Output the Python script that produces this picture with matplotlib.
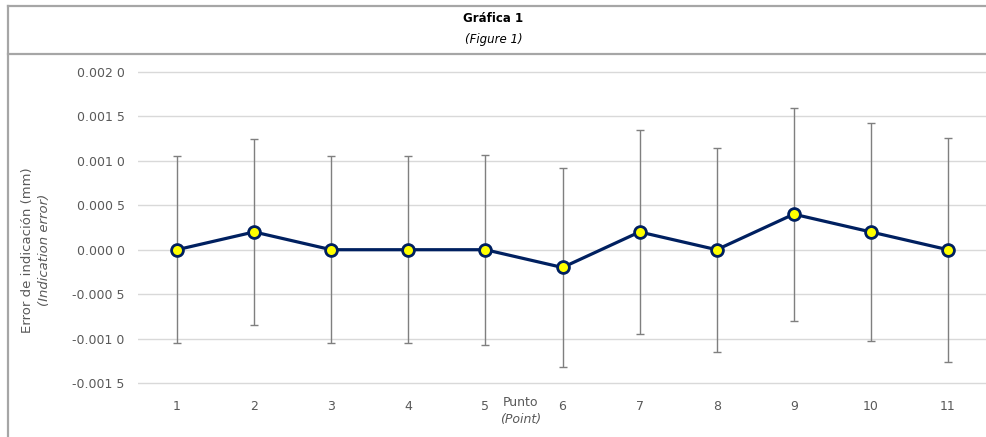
import matplotlib
matplotlib.use("Agg")
import matplotlib.pyplot as plt
from matplotlib.lines import Line2D
from matplotlib.ticker import FuncFormatter

points = [1, 2, 3, 4, 5, 6, 7, 8, 9, 10, 11]
errors = [0.0, 0.0002, 0.0, 0.0, 0.0, -0.0002, 0.0002, 0.0, 0.0004, 0.0002, 0.0]
uncert = [0.00105, 0.00105, 0.00105, 0.00105, 0.00107, 0.00112, 0.00115, 0.00115, 0.0012, 0.00123, 0.00126]
yticks = [-0.0015, -0.001, -0.0005, 0.0, 0.0005, 0.001, 0.0015, 0.002]

plt.rcParams['font.family'] = ['DejaVu Sans']
W, H = 987, 437
fig = plt.figure(figsize=(W / 100, H / 100), dpi=100)
pad_px = 3
unit = (383 - 72) / 0.0035
dv = pad_px / unit
ax = fig.add_axes([138.5 / W, 1 - (383 + pad_px) / H, 848 / W, (383 - 72 + 2 * pad_px) / H])

navy = '#002060'
ax.errorbar(points, errors, yerr=uncert, fmt='none', ecolor='#7f7f7f',
            elinewidth=1.0, capsize=3, capthick=1.0, zorder=2)
ax.plot(points, errors, color=navy, lw=2.3, marker='o', ms=8.5,
        mfc='#FFFF00', mec=navy, mew=2.0, zorder=3)

ax.set_xlim(0.5, 11.5)
ax.set_ylim(-0.0015 - dv, 0.002 + dv)
ax.set_yticks(yticks)
ax.set_xticks(points)
ax.set_xticklabels([str(p) for p in points])

def fmt(v, pos):
    s = f"{v:.4f}"
    if s == "-0.0000":
        s = "0.0000"
    return s[:-1] + " " + s[-1]

ax.yaxis.set_major_formatter(FuncFormatter(fmt))
ax.grid(axis='y', color='#d9d9d9', lw=1.0)
ax.set_axisbelow(True)
for sp in ax.spines.values():
    sp.set_visible(False)
ax.tick_params(axis='both', length=0, labelsize=9, colors='#595959')
ax.tick_params(axis='y', pad=10)
ax.tick_params(axis='x', pad=10)

# axis titles
fig.text(521 / W, 1 - 403 / H, 'Punto', ha='center', va='center', fontsize=9, color='#595959')
fig.text(521 / W, 1 - 420 / H, '(Point)', ha='center', va='center', fontsize=9, color='#595959', style='italic')
fig.text(28 / W, 1 - 250 / H, 'Error de indicación (mm)', ha='center', va='center', rotation=90,
         fontsize=9.5, color='#595959')
fig.text(45 / W, 1 - 250 / H, '(Indication error)', ha='center', va='center', rotation=90,
         fontsize=9.5, color='#595959', style='italic')

# title
fig.text(0.5, 1 - 18 / H, 'Gráfica 1', ha='center', va='center', fontsize=8.5, fontweight='bold', color='black')
fig.text(0.5, 1 - 40 / H, '(Figure 1)', ha='center', va='center', fontsize=8.5, style='italic', color='black')

# frame lines
fc = '#a6a6a6'
fig.add_artist(Line2D([8 / W, 1], [1 - 6 / H, 1 - 6 / H], color=fc, lw=1.6, transform=fig.transFigure))
fig.add_artist(Line2D([8 / W, 1], [1 - 54 / H, 1 - 54 / H], color=fc, lw=1.6, transform=fig.transFigure))
fig.add_artist(Line2D([8 / W, 8 / W], [0, 1 - 6 / H], color=fc, lw=1.6, transform=fig.transFigure))

fig.savefig('out.png', dpi=100)
